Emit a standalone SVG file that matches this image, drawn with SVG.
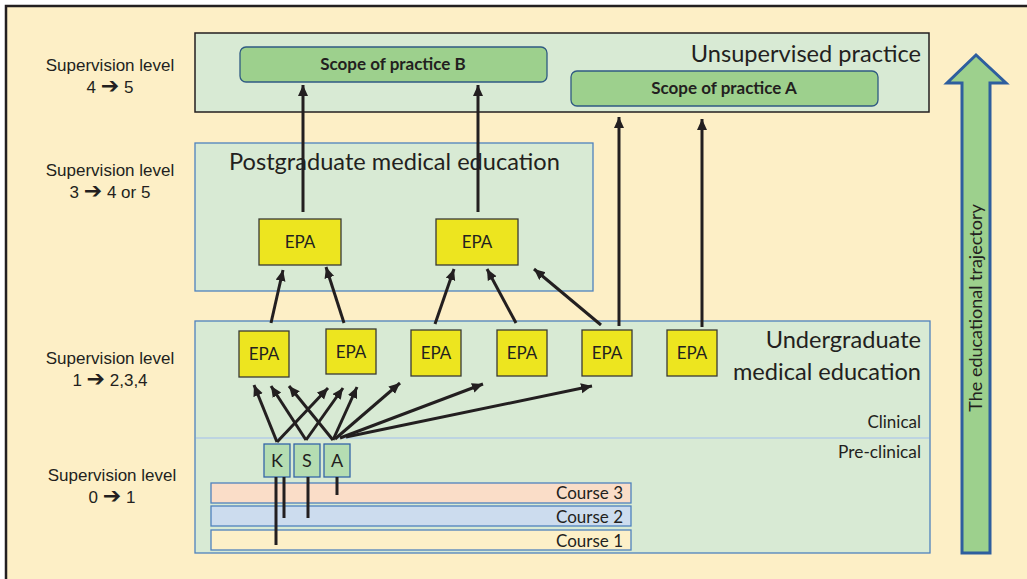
<svg xmlns="http://www.w3.org/2000/svg" width="1027" height="579" viewBox="0 0 1027 579">
  <style>
    .lvl { font-family: "Liberation Sans", Arial, sans-serif; font-size: 17px; fill: #231F20; text-anchor: middle; }
    .ar { font-family: "DejaVu Sans", sans-serif; font-size: 22px; }
    .cal { font-family: Lato, "Open Sans", sans-serif; fill: #231F20; }
    .zone { fill: #D8EAD4; }
    .epa rect { fill: #EDE51F; stroke: #3A3A35; stroke-width: 1.3; }
    .epa text { font-family: Lato, "Open Sans", sans-serif; font-size: 17px; fill: #231F20; text-anchor: middle; }
    .ksa rect { fill: #B5DDB2; stroke: #3566A8; stroke-width: 1.3; }
    .ksa text { font-family: Lato, "Open Sans", sans-serif; font-size: 18px; fill: #231F20; text-anchor: middle; }
    .scope rect { fill: #9DD08D; stroke: #2F5A82; stroke-width: 1.3; }
    .scope text { font-family: Lato, "Open Sans", sans-serif; font-size: 17px; font-weight: bold; fill: #231F20; text-anchor: middle; }
    .course rect { stroke: #4F81BD; stroke-width: 1.3; }
    .course text { font-family: Lato, "Open Sans", sans-serif; font-size: 17px; fill: #231F20; text-anchor: end; }
    .arr { stroke: #231F20; stroke-width: 3; fill: none; marker-end: url(#head); }
    .bar { stroke: #231F20; stroke-width: 3; fill: none; }
  </style>
  <defs>
    <marker id="head" markerUnits="userSpaceOnUse" markerWidth="12" markerHeight="12" refX="11" refY="5" orient="auto">
      <path d="M0,0 L11,5 L0,10 Z" fill="#231F20"/>
    </marker>
  </defs>

  <!-- page -->
  <rect x="0" y="0" width="1027" height="579" fill="#FFFFFF"/>
  <rect x="6" y="6" width="1030" height="585" fill="#FDEFC6" stroke="#231F20" stroke-width="2.5"/>

  <!-- supervision level labels -->
  <g id="levels">
    <text class="lvl" x="110" y="71">Supervision level</text>
    <text class="lvl" x="110" y="93">4 <tspan class="ar">➔</tspan> 5</text>
    <text class="lvl" x="110" y="176">Supervision level</text>
    <text class="lvl" x="110" y="198">3 <tspan class="ar">➔</tspan> 4 or 5</text>
    <text class="lvl" x="110" y="364">Supervision level</text>
    <text class="lvl" x="110" y="386">1 <tspan class="ar">➔</tspan> 2,3,4</text>
    <text class="lvl" x="112" y="481">Supervision level</text>
    <text class="lvl" x="112" y="503">0 <tspan class="ar">➔</tspan> 1</text>
  </g>

  <!-- education stages -->
  <g id="unsupervised">
    <rect class="zone" x="195" y="33" width="734" height="79" stroke="#231F20" stroke-width="1.5"/>
    <text class="cal" x="921" y="62" font-size="23.6" text-anchor="end">Unsupervised practice</text>
  </g>
  <g id="postgraduate">
    <rect class="zone" x="195" y="143" width="398" height="148" stroke="#4F81BD" stroke-width="1.3"/>
    <text class="cal" x="229" y="170" font-size="23.6">Postgraduate medical education</text>
  </g>
  <g id="undergraduate">
    <rect class="zone" x="195" y="321" width="735" height="232" stroke="#4F81BD" stroke-width="1.3"/>
    <line x1="196" y1="438" x2="929" y2="438" stroke="#B5CDE6" stroke-width="1.3"/>
    <text class="cal" x="921" y="348" font-size="23.6" text-anchor="end">Undergraduate</text>
    <text class="cal" x="921" y="380" font-size="23.6" text-anchor="end">medical education</text>
    <text class="cal" x="921" y="428" font-size="17" text-anchor="end">Clinical</text>
    <text class="cal" x="921" y="458" font-size="17.3" text-anchor="end">Pre-clinical</text>
  </g>

  <!-- scopes of practice -->
  <g id="scope-b" class="scope">
    <rect x="240" y="47" width="307" height="35" rx="6"/>
    <text x="393" y="70">Scope of practice B</text>
  </g>
  <g id="scope-a" class="scope">
    <rect x="571" y="71" width="307" height="35" rx="6"/>
    <text x="724" y="94">Scope of practice A</text>
  </g>

  <!-- postgraduate EPAs -->
  <g id="pg-epa-1" class="epa">
    <rect x="259" y="219" width="82" height="46"/>
    <text x="300" y="248">EPA</text>
  </g>
  <g id="pg-epa-2" class="epa">
    <rect x="436" y="219" width="82" height="46"/>
    <text x="477" y="248">EPA</text>
  </g>

  <!-- undergraduate EPAs -->
  <g id="ug-epa-1" class="epa">
    <rect x="239" y="331" width="50" height="46"/>
    <text x="264" y="360">EPA</text>
  </g>
  <g id="ug-epa-2" class="epa">
    <rect x="326" y="329" width="50" height="45"/>
    <text x="351" y="358">EPA</text>
  </g>
  <g id="ug-epa-3" class="epa">
    <rect x="411" y="330" width="50" height="46"/>
    <text x="436" y="359">EPA</text>
  </g>
  <g id="ug-epa-4" class="epa">
    <rect x="497" y="330" width="50" height="46"/>
    <text x="522" y="359">EPA</text>
  </g>
  <g id="ug-epa-5" class="epa">
    <rect x="582" y="330" width="50" height="46"/>
    <text x="607" y="359">EPA</text>
  </g>
  <g id="ug-epa-6" class="epa">
    <rect x="667" y="330" width="50" height="46"/>
    <text x="692" y="359">EPA</text>
  </g>

  <!-- courses -->
  <g id="course-3" class="course">
    <rect x="211" y="483" width="420" height="20" fill="#FADDC8"/>
    <text x="623" y="499">Course 3</text>
  </g>
  <g id="course-2" class="course">
    <rect x="211" y="506" width="420" height="20" fill="#CCDCEE"/>
    <text x="623" y="523">Course 2</text>
  </g>
  <g id="course-1" class="course">
    <rect x="211" y="530" width="420" height="20" fill="#FDF0C8"/>
    <text x="623" y="547">Course 1</text>
  </g>

  <!-- knowledge, skills, attitudes -->
  <g id="ksa-k" class="ksa">
    <rect x="264" y="444" width="26" height="33"/>
    <text x="277" y="467">K</text>
  </g>
  <g id="ksa-s" class="ksa">
    <rect x="294" y="444" width="26" height="33"/>
    <text x="307" y="467">S</text>
  </g>
  <g id="ksa-a" class="ksa">
    <rect x="324" y="444" width="26" height="33"/>
    <text x="337" y="467">A</text>
  </g>

  <!-- educational trajectory -->
  <g id="trajectory">
    <path d="M962,553 L962,83 L947,83 L976,55 L1006,83 L990,83 L990,553 Z" fill="#9DD08D" stroke="#2E5E9E" stroke-width="3" stroke-linejoin="miter"/>
    <text class="cal" x="0" y="0" font-size="18" text-anchor="middle" transform="translate(982,308) rotate(-90)">The educational trajectory</text>
  </g>

  <!-- connectors -->
  <g id="connectors">
    <!-- courses feeding K, S, A -->
    <line class="bar" x1="276" y1="477" x2="276" y2="545"/>
    <line class="bar" x1="284" y1="477" x2="284" y2="518"/>
    <line class="bar" x1="308" y1="477" x2="308" y2="518"/>
    <line class="bar" x1="337" y1="477" x2="337" y2="495"/>

    <!-- K, S, A to undergraduate EPAs -->
    <line class="arr" x1="277" y1="442" x2="254" y2="385"/>
    <line class="arr" x1="277" y1="442" x2="328" y2="388"/>
    <line class="arr" x1="306" y1="440" x2="271" y2="386"/>
    <line class="arr" x1="306" y1="440" x2="343" y2="388"/>
    <line class="arr" x1="333" y1="440" x2="289" y2="386"/>
    <line class="arr" x1="333" y1="440" x2="357" y2="387"/>
    <line class="arr" x1="335" y1="439" x2="400" y2="383"/>
    <line class="arr" x1="340" y1="438" x2="483" y2="384"/>
    <line class="arr" x1="346" y1="437" x2="592" y2="386"/>

    <!-- undergraduate EPAs to postgraduate EPAs -->
    <line class="arr" x1="271" y1="323" x2="283" y2="270"/>
    <line class="arr" x1="344" y1="323" x2="326" y2="267"/>
    <line class="arr" x1="435" y1="324" x2="454" y2="269"/>
    <line class="arr" x1="516" y1="323" x2="487" y2="269"/>
    <line class="arr" x1="601" y1="325" x2="534" y2="269"/>

    <!-- to scopes of practice -->
    <line class="arr" x1="303" y1="212" x2="303" y2="85"/>
    <line class="arr" x1="478" y1="212" x2="478" y2="85"/>
    <line class="arr" x1="619" y1="326" x2="619" y2="117"/>
    <line class="arr" x1="702" y1="327" x2="702" y2="119"/>
  </g>
</svg>
